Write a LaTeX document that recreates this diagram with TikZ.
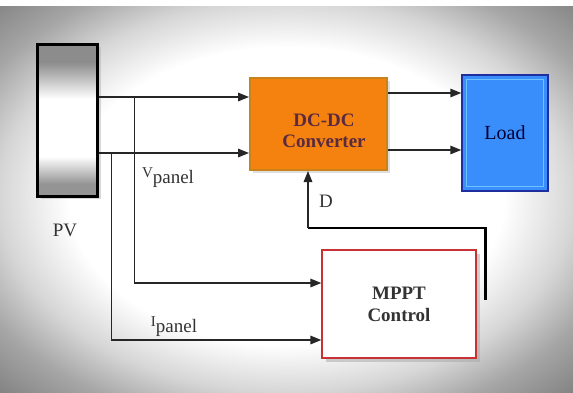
\documentclass[tikz,border=0pt]{standalone}
\usepackage{fontspec}
\setmainfont{Liberation Serif}
\newfontfamily\serf{Liberation Serif}
\usetikzlibrary{arrows.meta,calc,shadows}
\pgfdeclareradialshading{vig}{\pgfpoint{0bp}{0bp}}{color(0bp)=(white);color(19bp)=(white);color(25bp)=(black!16);color(30bp)=(black!35);color(36bp)=(black!50);color(50bp)=(black!50)}
\pgfdeclareverticalshading{pvsh}{100bp}{color(0bp)=(black!42);color(29bp)=(black!42);color(38bp)=(white);color(57bp)=(white);color(69bp)=(black!45);color(100bp)=(black!45)}
\definecolor{convfill}{HTML}{F5820F}
\definecolor{convdraw}{HTML}{C8841A}
\definecolor{convtext}{HTML}{5A2A40}
\definecolor{loadfill}{HTML}{3A8EFB}
\definecolor{loaddraw}{HTML}{1E2E9E}
\definecolor{loadinner}{HTML}{6EC0FF}
\definecolor{mpptdraw}{HTML}{C83232}
\begin{document}
\begin{tikzpicture}[x=1pt,y=-1pt,
  arr/.style={draw=black!85, line width=1.6pt, -{Triangle[length=11pt,width=8.5pt]}},
  dwire/.style={draw=black, line width=2.8pt},
  lbl/.style={font=\serf\fontsize{19}{19}\selectfont, text=black!80, inner sep=0pt},
  pvbox/.style={rectangle, minimum width=60pt, minimum height=152pt, inner sep=0pt,
    draw=black, line width=3pt, shading=pvsh,
    drop shadow={shadow xshift=3pt, shadow yshift=-3pt, fill=black!30}},
  convbox/.style={rectangle, minimum width=137pt, minimum height=92pt, inner sep=0pt,
    draw=convdraw, line width=2pt, fill=convfill,
    drop shadow={shadow xshift=3pt, shadow yshift=-3pt, fill=black!25}},
  loadbox/.style={rectangle, minimum width=86pt, minimum height=116pt, inner sep=0pt,
    draw=loaddraw, line width=1.5pt, fill=loadfill},
  mpptbox/.style={rectangle, minimum width=154pt, minimum height=108pt, inner sep=0pt,
    draw=mpptdraw, line width=1.3pt, fill=white,
    drop shadow={shadow xshift=4pt, shadow yshift=-4pt, fill=black!35}},
 ]
\shade[shading=vig] (0,0) rectangle (573,392);
\fill[white] (0,0) rectangle (573,6);
\useasboundingbox (0,0) rectangle (573,392);

% blocks
\node[pvbox] (pv) at (67.5,120) {};
\node[convbox] (conv) at (318.5,124) {};
\node[font=\serf\bfseries\fontsize{19}{21}\selectfont, text=convtext, align=center] (convt) at (324,131) {DC-DC\\Converter};
\node[loadbox] (load) at (505,133) {};
\draw[loadinner, line width=1pt] ($(load.north west)+(5,5)$) rectangle ($(load.south east)+(-5,-5)$);
\node[font=\serf\fontsize{20}{22}\selectfont, text=black!80!blue] (loadt) at (505,133) {Load};
\node[mpptbox, font=\serf\bfseries\fontsize{19}{22}\selectfont, text=black!80, align=center] (mppt) at (399,304) {MPPT\\Control};

% labels
\node[lbl] (pvl) at (65,230) {PV};
\node[lbl] (vl) at (168,178) {{\fontsize{15}{15}\selectfont V}\raisebox{-6pt}{panel}};
\node[lbl] (il) at (174,327) {{\fontsize{15}{15}\selectfont I}\raisebox{-6pt}{panel}};
\node[lbl] (dl) at (326,201) {D};

% connectors PV -> converter
\draw[arr] ([yshift=23pt]pv.east) -- ([yshift=23pt]pv.east -| conv.west);
\draw[arr] ([yshift=-33pt]pv.east) -- ([yshift=-33pt]pv.east -| conv.west);

% converter -> load
\draw[arr] ([yshift=31pt]conv.east) -- ([yshift=31pt]conv.east -| load.west);
\draw[arr] ([yshift=-26pt]conv.east) -- ([yshift=-26pt]conv.east -| load.west);

% measurement taps
\coordinate (jv) at ([xshift=35.5pt,yshift=23pt]pv.east);
\coordinate (ji) at ([xshift=12.5pt,yshift=-33pt]pv.east);
\draw[arr] (jv) |- ([yshift=21pt]mppt.west);
\draw[arr] (ji) |- ([yshift=-36pt]mppt.west);

% duty cycle D
\coordinate (dstart) at ([xshift=9pt,yshift=4pt]mppt.east);
\coordinate (dturn) at ([xshift=-10.5pt]conv.south |- 0,228);
\draw[dwire] (dstart) |- (dturn);
\draw[arr] (dturn) -- (dturn |- conv.south);
\end{tikzpicture}
\end{document}
